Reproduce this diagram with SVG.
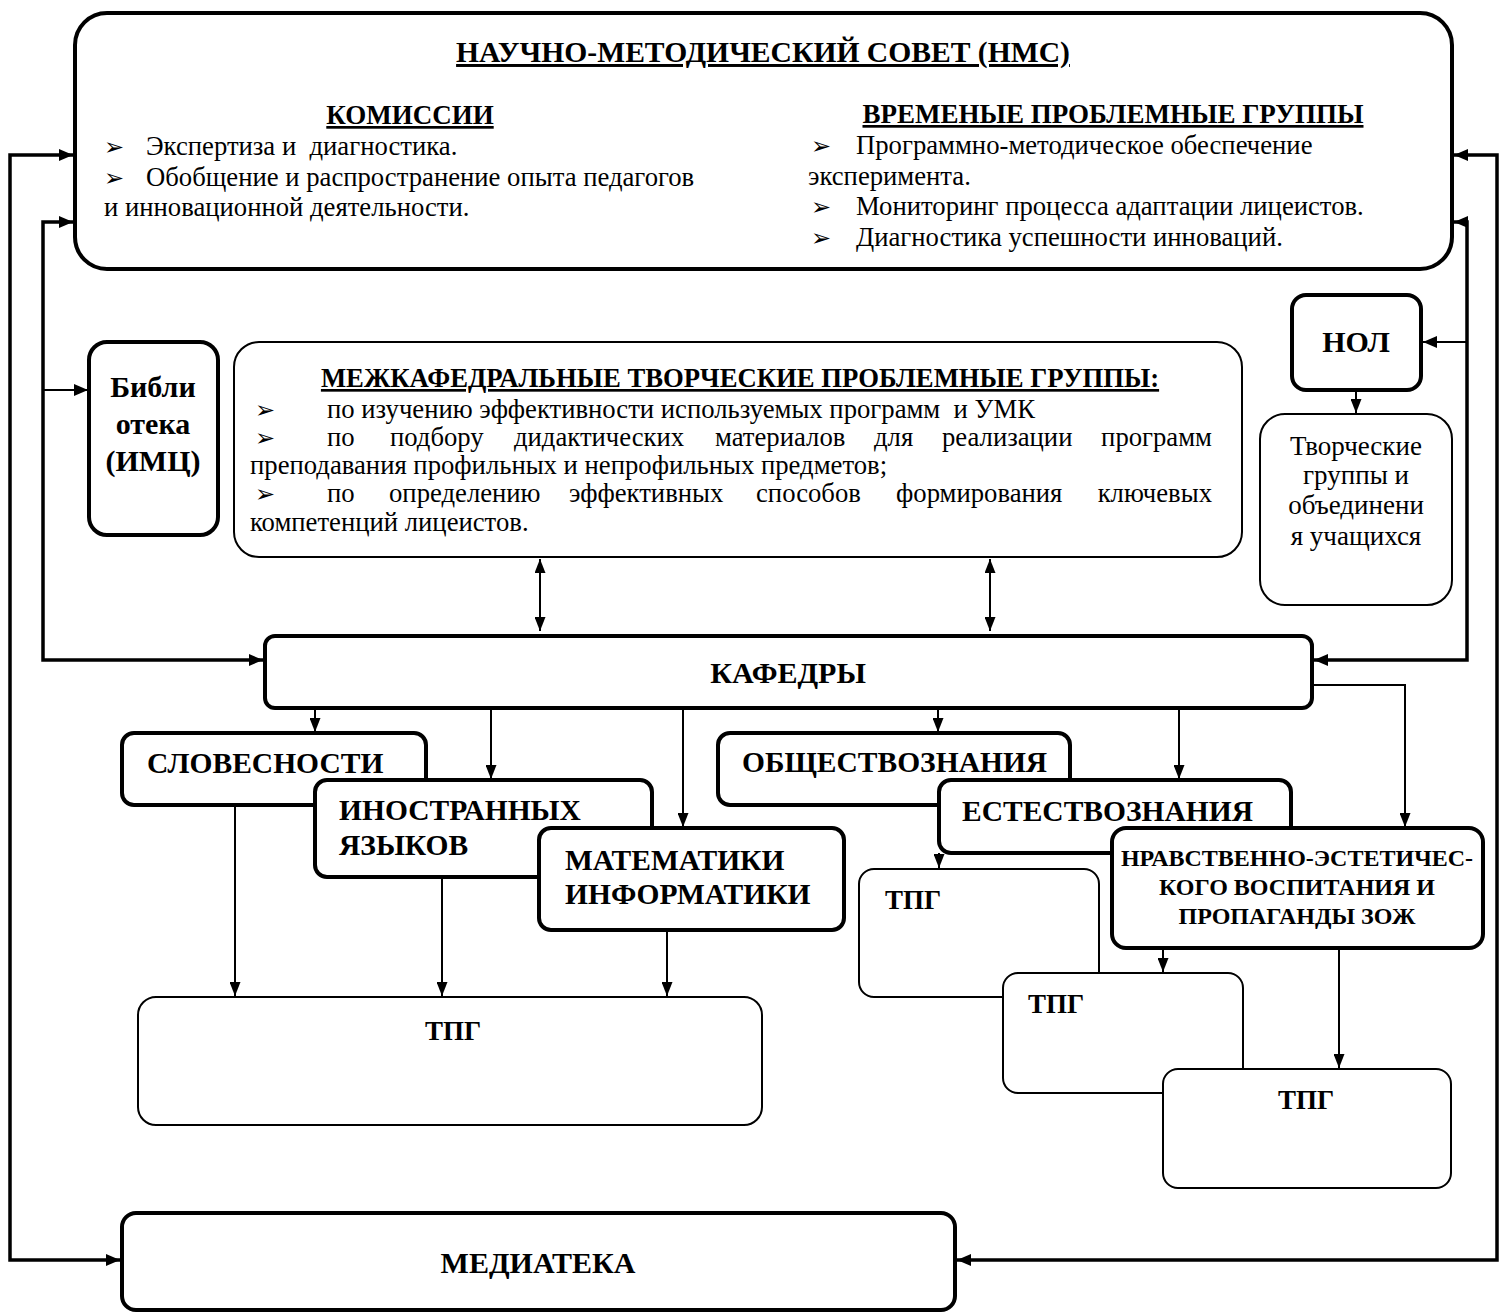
<svg xmlns="http://www.w3.org/2000/svg" width="1503" height="1316" viewBox="0 0 1503 1316">
<style>
text{font-family:"Liberation Serif","Times New Roman",serif;fill:#000}
.b{font-weight:bold}
.u{text-decoration:underline}
.bul{font-family:"DejaVu Sans",sans-serif;font-size:24px}
.thick{fill:#fff;stroke:#000;stroke-width:4}
.thin{fill:#fff;stroke:#000;stroke-width:2}
.c3{fill:none;stroke:#000;stroke-width:3.5}
.c2{fill:none;stroke:#000;stroke-width:2}
.body{font-size:26.7px}
.mid{font-size:26.7px}
.dep{font-weight:bold;font-size:29.5px}
.tpg{font-weight:bold;font-size:27px}
</style>
<defs>
<marker id="ah" viewBox="0 0 14 12" refX="14" refY="6" markerWidth="14" markerHeight="12" markerUnits="userSpaceOnUse" orient="auto-start-reverse"><path d="M0,0 L14,6 L0,12 z" fill="#000"/></marker>
<marker id="as" viewBox="0 0 14 11" refX="14" refY="5.5" markerWidth="14" markerHeight="11" markerUnits="userSpaceOnUse" orient="auto-start-reverse"><path d="M0,0 L14,5.5 L0,11 z" fill="#000"/></marker>
</defs>
<rect width="1503" height="1316" fill="#fff"/>

<g id="connectors">
<polyline class="c3" points="73,155 10,155 10,1260 120,1260" marker-start="url(#ah)" marker-end="url(#ah)"/>
<polyline class="c3" points="73,222 43,222 43,660 263,660" marker-start="url(#ah)" marker-end="url(#ah)"/>
<line class="c2" x1="43" y1="390" x2="88" y2="390" marker-end="url(#ah)"/>
<polyline class="c3" points="1454,155 1497,155 1497,1260 957,1260" marker-start="url(#ah)" marker-end="url(#ah)"/>
<polyline class="c3" points="1454,222 1467,222 1467,660 1314,660" marker-start="url(#ah)" marker-end="url(#ah)"/>
<line class="c2" x1="1467" y1="342" x2="1423" y2="342" marker-end="url(#ah)"/>
<line class="c2" x1="1356" y1="390" x2="1356" y2="413" marker-end="url(#as)"/>
<line class="c2" x1="540" y1="559" x2="540" y2="631" marker-start="url(#as)" marker-end="url(#as)"/>
<line class="c2" x1="990" y1="559" x2="990" y2="631" marker-start="url(#as)" marker-end="url(#as)"/>
<line class="c2" x1="315" y1="708" x2="315" y2="732" marker-end="url(#as)"/>
<line class="c2" x1="491" y1="708" x2="491" y2="779" marker-end="url(#as)"/>
<line class="c2" x1="683" y1="708" x2="683" y2="827" marker-end="url(#as)"/>
<line class="c2" x1="938" y1="708" x2="938" y2="732" marker-end="url(#as)"/>
<line class="c2" x1="1179" y1="708" x2="1179" y2="779" marker-end="url(#as)"/>
<polyline class="c2" points="1312,685 1405,685 1405,827" marker-end="url(#as)"/>
<line class="c2" x1="235" y1="805" x2="235" y2="996" marker-end="url(#as)"/>
<line class="c2" x1="442" y1="877" x2="442" y2="996" marker-end="url(#as)"/>
<line class="c2" x1="667" y1="930" x2="667" y2="996" marker-end="url(#as)"/>
<line class="c2" x1="939" y1="853" x2="939" y2="868" marker-end="url(#as)"/>
<line class="c2" x1="1163" y1="948" x2="1163" y2="972" marker-end="url(#as)"/>
<line class="c2" x1="1339" y1="948" x2="1339" y2="1068" marker-end="url(#as)"/>
</g>

<g id="nms">
<rect class="thick" x="75" y="13" width="1377" height="256" rx="32"/>
<text class="b u" x="763" y="62" font-size="29.6" text-anchor="middle">НАУЧНО-МЕТОДИЧЕСКИЙ СОВЕТ (НМС)</text>
<text class="b u" x="410" y="124" font-size="27" text-anchor="middle">КОМИССИИ</text>
<text class="bul" x="104" y="155">➢</text>
<text class="body" x="146" y="155" xml:space="preserve">Экспертиза и  диагностика.</text>
<text class="bul" x="104" y="186">➢</text>
<text class="body" x="146" y="186">Обобщение и распространение опыта педагогов</text>
<text class="body" x="104" y="216">и инновационной деятельности.</text>
<text class="b u" x="1113" y="123" font-size="27" text-anchor="middle">ВРЕМЕНЫЕ ПРОБЛЕМНЫЕ ГРУППЫ</text>
<text class="bul" x="811" y="154">➢</text>
<text class="body" x="856" y="154">Программно-методическое обеспечение</text>
<text class="body" x="808" y="185">эксперимента.</text>
<text class="bul" x="811" y="215">➢</text>
<text class="body" x="856" y="215">Мониторинг процесса адаптации лицеистов.</text>
<text class="bul" x="811" y="246">➢</text>
<text class="body" x="856" y="246">Диагностика успешности инноваций.</text>
</g>

<g id="biblioteka">
<rect class="thick" x="89" y="342" width="129" height="193" rx="18"/>
<text class="b" x="153" y="397" font-size="30" text-anchor="middle">Библи</text>
<text class="b" x="153" y="434" font-size="30" text-anchor="middle">отека</text>
<text class="b" x="153" y="471" font-size="30" text-anchor="middle">(ИМЦ)</text>
</g>

<g id="mezhkaf">
<rect class="thin" x="234" y="342" width="1008" height="215" rx="25" stroke-width="1.5"/>
<text class="b u" x="740" y="387" font-size="26.7" text-anchor="middle">МЕЖКАФЕДРАЛЬНЫЕ ТВОРЧЕСКИЕ ПРОБЛЕМНЫЕ ГРУППЫ:</text>
<text class="bul" x="255" y="418">➢</text>
<text class="mid" x="327" y="418" xml:space="preserve">по изучению эффективности используемых программ  и УМК</text>
<text class="bul" x="255" y="446">➢</text>
<text class="mid" y="446"><tspan x="327">по</tspan><tspan x="390">подбору</tspan><tspan x="514">дидактических</tspan><tspan x="715">материалов</tspan><tspan x="874">для</tspan><tspan x="942">реализации</tspan></text>
<text class="mid" x="1212" y="446" text-anchor="end">программ</text>
<text class="mid" x="250" y="474">преподавания профильных и непрофильных предметов;</text>
<text class="bul" x="255" y="502">➢</text>
<text class="mid" y="502"><tspan x="327">по</tspan><tspan x="389">определению</tspan><tspan x="569">эффективных</tspan><tspan x="756">способов</tspan><tspan x="896">формирования</tspan></text>
<text class="mid" x="1212" y="502" text-anchor="end">ключевых</text>
<text class="mid" x="250" y="531">компетенций лицеистов.</text>
</g>

<g id="nol">
<rect class="thick" x="1292" y="295" width="129" height="95" rx="14"/>
<text class="b" x="1356" y="352" font-size="30" text-anchor="middle">НОЛ</text>
</g>

<g id="tvorcheskie">
<rect class="thin" x="1260" y="414" width="192" height="191" rx="25" stroke-width="1.5"/>
<text x="1356" y="455" font-size="27" text-anchor="middle">Творческие</text>
<text x="1356" y="484" font-size="27" text-anchor="middle">группы и</text>
<text x="1356" y="514" font-size="27" text-anchor="middle">объединени</text>
<text x="1356" y="545" font-size="27" text-anchor="middle">я учащихся</text>
</g>

<g id="kafedry">
<rect class="thick" x="265" y="636" width="1047" height="72" rx="10"/>
<text class="b" x="788" y="683" font-size="30" text-anchor="middle">КАФЕДРЫ</text>
</g>

<g id="slovesnosti">
<rect class="thick" x="122" y="733" width="304" height="72" rx="12"/>
<text class="dep" x="147" y="773">СЛОВЕСНОСТИ</text>
</g>
<g id="inostrannyh">
<rect class="thick" x="315" y="780" width="337" height="97" rx="12"/>
<text class="dep" x="339" y="820">ИНОСТРАННЫХ</text>
<text class="dep" x="339" y="855">ЯЗЫКОВ</text>
</g>
<g id="matematiki">
<rect class="thick" x="539" y="828" width="305" height="102" rx="12"/>
<text class="dep" x="565" y="870">МАТЕМАТИКИ</text>
<text class="dep" x="565" y="904">ИНФОРМАТИКИ</text>
</g>

<g id="obshestvoznaniya">
<rect class="thick" x="718" y="733" width="352" height="72" rx="12"/>
<text class="dep" x="742" y="772">ОБЩЕСТВОЗНАНИЯ</text>
</g>
<g id="estestvoznaniya">
<rect class="thick" x="939" y="780" width="352" height="73" rx="12"/>
<text class="dep" x="962" y="821">ЕСТЕСТВОЗНАНИЯ</text>
</g>

<g id="tpg1">
<rect class="thin" x="859" y="869" width="240" height="128" rx="15"/>
<text class="tpg" x="885" y="909">ТПГ</text>
</g>
<g id="tpg2">
<rect class="thin" x="1003" y="973" width="240" height="120" rx="15"/>
<text class="tpg" x="1028" y="1013">ТПГ</text>
</g>
<g id="tpg3">
<rect class="thin" x="1163" y="1069" width="288" height="119" rx="15"/>
<text class="tpg" x="1306" y="1109" text-anchor="middle">ТПГ</text>
</g>

<g id="nravstvenno">
<rect class="thick" x="1112" y="828" width="371" height="120" rx="14"/>
<text class="b" x="1297" y="866" font-size="24" text-anchor="middle">НРАВСТВЕННО-ЭСТЕТИЧЕС-</text>
<text class="b" x="1297" y="895" font-size="24" text-anchor="middle">КОГО ВОСПИТАНИЯ И</text>
<text class="b" x="1297" y="924" font-size="24" text-anchor="middle">ПРОПАГАНДЫ ЗОЖ</text>
</g>

<g id="tpg-main">
<rect class="thin" x="138" y="997" width="624" height="128" rx="18"/>
<text class="tpg" x="453" y="1040" text-anchor="middle">ТПГ</text>
</g>

<g id="mediateka">
<rect class="thick" x="122" y="1213" width="833" height="97" rx="14"/>
<text class="b" x="538" y="1273" font-size="30" text-anchor="middle">МЕДИАТЕКА</text>
</g>
</svg>
